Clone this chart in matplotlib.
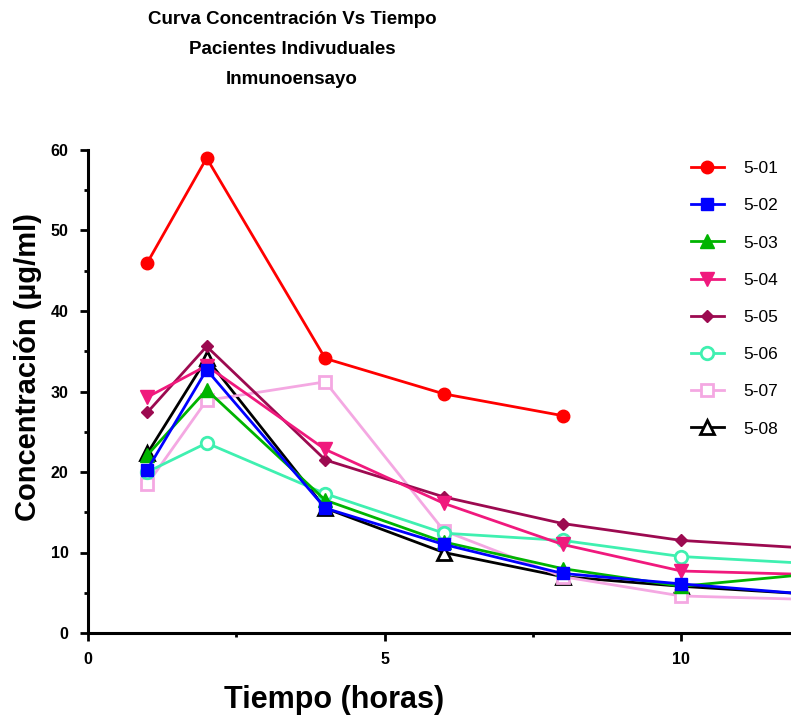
import matplotlib
matplotlib.use("Agg")
import matplotlib.pyplot as plt
from matplotlib.ticker import MultipleLocator

plt.rcParams['font.family'] = ['Liberation Sans', 'DejaVu Sans']

# tiempo (horas)
hours = [1, 2, 4, 6, 8, 10, 12]

# concentración (µg/ml) por paciente
p501 = [46.0, 59.0, 34.1, 29.7, 27.0]
p502 = [20.3, 32.7, 15.5, 11.0, 7.4, 6.1, 4.9]
p503 = [22.1, 30.2, 16.5, 11.3, 8.0, 5.8, 7.2]
p504 = [29.3, 33.2, 22.8, 16.1, 11.0, 7.7, 7.3]
p505 = [27.4, 35.6, 21.5, 16.9, 13.6, 11.5, 10.6]
p506 = [20.0, 23.6, 17.3, 12.4, 11.5, 9.5, 8.7]
p507 = [18.5, 28.9, 31.2, 12.7, 7.0, 4.6, 4.2]
p508 = [22.3, 34.1, 15.5, 10.0, 7.0, 5.8, 4.9]

labels = ["5-01", "5-02", "5-03", "5-04", "5-05", "5-06", "5-07", "5-08"]
series = [p501, p502, p503, p504, p505, p506, p507, p508]

# (color, marker, filled, size)
styles = [
    ("#ff0000", "o", True, 9),
    ("#0000ff", "s", True, 9),
    ("#00b400", "^", True, 10),
    ("#f0197d", "v", True, 10),
    ("#9c0a50", "D", True, 6.5),
    ("#3ff0b0", "o", False, 9),
    ("#f4a8e2", "s", False, 9),
    ("#000000", "^", False, 10),
]

fig = plt.figure(figsize=(7.91, 7.19), dpi=100)
ax = fig.add_axes([88 / 791, 86 / 719, 703 / 791, 483 / 719])

for i, (ys, lab, (col, mk, filled, ms)) in enumerate(zip(series, labels, styles)):
    ax.plot(hours[:len(ys)], ys, color=col, lw=2, marker=mk, markersize=ms,
            markerfacecolor=col if filled else "white", markeredgecolor=col,
            markeredgewidth=2 if not filled else 1, label=lab, zorder=10 - i)

ax.set_xlim(0, 11.85)
ax.set_ylim(0, 60)
ax.xaxis.set_major_locator(MultipleLocator(5))
ax.xaxis.set_minor_locator(MultipleLocator(2.5))
ax.yaxis.set_major_locator(MultipleLocator(10))
ax.yaxis.set_minor_locator(MultipleLocator(5))

for s in ("top", "right"):
    ax.spines[s].set_visible(False)
for s in ("left", "bottom"):
    ax.spines[s].set_linewidth(2.2)

ax.tick_params(which="major", direction="out", length=6, width=2, labelsize=11.5, pad=8)
ax.tick_params(which="minor", direction="out", length=3, width=2)
for t in ax.get_xticklabels() + ax.get_yticklabels():
    t.set_fontweight("bold")

leg = ax.legend(loc="upper left", bbox_to_anchor=(691 / 791, 1 - 161 / 719),
                bbox_transform=fig.transFigure, frameon=False, fontsize=12.5,
                handlelength=1.9, handletextpad=1.1, labelspacing=1.27,
                borderpad=0, borderaxespad=0)

fig.text(292 / 791, 1 - 49 / 719,
         "Curva Concentración Vs Tiempo\nPacientes Indivuduales\nInmunoensayo",
         ha="center", va="center", fontsize=13.5, fontweight="bold", linespacing=2.0)

fig.text(28 / 791, 1 - 367 / 719, "Concentración (µg/ml)", rotation=90,
         ha="center", va="center", fontsize=21, fontweight="bold")
fig.text(334 / 791, 1 - 700 / 719, "Tiempo (horas)",
         ha="center", va="center", fontsize=22, fontweight="bold")

fig.savefig("out.png", dpi=100)
